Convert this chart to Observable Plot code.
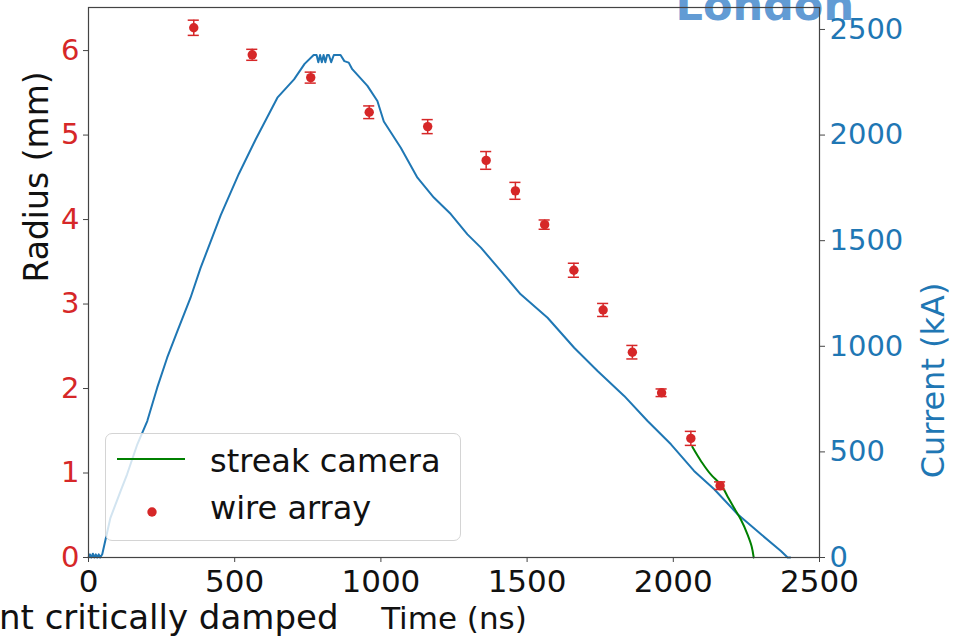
<!DOCTYPE html>
<html><head><meta charset="utf-8">
<script src="https://cdn.jsdelivr.net/npm/d3@7"></script>
<script src="https://cdn.jsdelivr.net/npm/@observablehq/plot@0.6"></script>
<style>
html,body{margin:0;padding:0;background:#fff;}
#wrap{position:relative;width:962px;height:639px;overflow:hidden;font-family:"DejaVu Sans",sans-serif;}
#legend{position:absolute;left:105px;top:433px;width:356px;height:108px;border:1px solid #d4d4d4;border-radius:7px;background:rgba(255,255,255,0.8);box-sizing:border-box;}
#legend svg{position:absolute;left:-1px;top:-1px;overflow:visible;}
</style></head><body><div id="wrap"></div>
<script>
// Current trace (ns, kA)
const waveTime = [0,5,10,15,20,25,30,35,40,47,75,110,132,167,201,235,269,304,349,383,452,514,572,646,703,739,770,780,786,792,798,804,810,816,822,830,839,850,862,875,890,902,954,988,1010,1068,1125,1181,1239,1296,1342,1410,1478,1570,1661,1741,1832,1912,1992,2071,2140,2220,2300,2368,2391,2400];
const waveCurrent = [0,15,0,18,0,15,0,15,0,15,188,315,394,536,646,804,946,1072,1230,1370,1620,1816,1980,2177,2264,2337,2379,2379,2345,2379,2345,2379,2345,2379,2379,2345,2379,2379,2379,2350,2343,2312,2233,2161,2064,1940,1798,1704,1626,1530,1467,1357,1246,1135,993,883,765,646,536,410,323,205,110,31,0,0];
// Wire array radius (ns, mm, error mm)
const wireTime = [360,560,760,960,1160,1360,1460,1560,1660,1760,1860,1960,2060,2160];
const wireRadius = [6.27,5.95,5.68,5.27,5.10,4.70,4.34,3.94,3.40,2.93,2.43,1.95,1.41,0.85];
const wireErr = [0.09,0.065,0.065,0.075,0.083,0.105,0.10,0.055,0.083,0.077,0.08,0.045,0.083,0.045];
// Streak camera (ns, mm)
const streakTime = [2065,2095,2129,2163,2186,2208,2231,2254,2268,2275];
const streakRadius = [1.31,1.14,0.98,0.86,0.72,0.585,0.45,0.27,0.13,0];
// Ticks and labels
const xTicks = [0,500,1000,1500,2000,2500];
const radiusTicks = [0,1,2,3,4,5,6];
const currentTicks = [0,500,1000,1500,2000,2500];
const legendLabels = ["streak camera","wire array"];
const xLabel = "Time (ns)", leftLabel = "Radius (mm)", rightLabel = "Current (kA)";
const overlayTop = "London", overlayBottom = "nt critically damped";

const k = 0.0025; // kA -> mm on shared y scale
const RED = "#d62728", BLUE = "#1f77b4", GREEN = "#008000";

const wave = waveTime.map((t,i)=>({t, r: waveCurrent[i]*k}));
const wire = wireTime.map((t,i)=>({t, r: wireRadius[i], e: wireErr[i]}));
const streak = streakTime.map((t,i)=>({t, r: streakRadius[i]}));

const chart = Plot.plot({
  width: 962, height: 639,
  marginLeft: 88, marginRight: 143, marginTop: 7, marginBottom: 82,
  x: {domain: [0, 2500], label: null},
  y: {domain: [0, 6.51], label: null},
  style: {fontFamily: "DejaVu Sans, sans-serif", background: "white"},
  marks: [
    Plot.text([overlayTop], {text: d=>d, frameAnchor: "top-left", dx: 587, dy: 12, textAnchor: "start", lineAnchor: "bottom", fontSize: 43, fontWeight: "bold", fill: "#629bd4"}),
    Plot.text([overlayBottom], {text: d=>d, frameAnchor: "bottom-left", dx: 250, dy: 71, textAnchor: "end", lineAnchor: "bottom", fontSize: 34, fill: "#111"}),
    Plot.line(wave, {x: "t", y: "r", stroke: BLUE, strokeWidth: 2}),
    Plot.line(streak, {x: "t", y: "r", stroke: GREEN, strokeWidth: 2, curve: "monotone-y"}),
    Plot.ruleX(wire, {x: "t", y1: d=>d.r-d.e, y2: d=>d.r+d.e, stroke: RED, strokeWidth: 1.5}),
    Plot.ruleY(wire, {y: d=>d.r+d.e, x1: d=>d.t-19, x2: d=>d.t+19, stroke: RED, strokeWidth: 1.5}),
    Plot.ruleY(wire, {y: d=>d.r-d.e, x1: d=>d.t-19, x2: d=>d.t+19, stroke: RED, strokeWidth: 1.5}),
    Plot.dot(wire, {x: "t", y: "r", r: 4.7, fill: RED}),
    Plot.frame({stroke: "#444", strokeWidth: 1.2}),
    // tick marks
    Plot.axisX({ticks: xTicks, tickSize: 5, tickFormat: ()=>"", color: "#444", label: null}),
    Plot.axisY({ticks: radiusTicks, tickSize: 5, tickFormat: ()=>"", color: "#444", label: null}),
    Plot.axisY(currentTicks.map(v=>v*k), {anchor: "right", tickSize: 5, tickFormat: ()=>"", color: "#444", label: null}),
    // tick labels
    Plot.axisX({ticks: xTicks, tickSize: 0, tickPadding: 12, fontSize: 31, color: "#111", label: null, tickFormat: d=>String(d)}),
    Plot.axisY({ticks: radiusTicks, tickSize: 0, tickPadding: 9, fontSize: 29, color: RED, label: null, tickFormat: d=>String(d)}),
    Plot.axisY(currentTicks.map(v=>v*k), {anchor: "right", tickSize: 0, tickPadding: 10, fontSize: 29, color: BLUE, label: null, tickFormat: d=>String(Math.round(d/k))}),
    // axis titles
    Plot.text([xLabel], {text: d=>d, frameAnchor: "bottom", dy: 71, lineAnchor: "bottom", fontSize: 31, fill: "#111"}),
    Plot.text([leftLabel], {text: d=>d, frameAnchor: "left", dx: -41, rotate: -90, lineAnchor: "bottom", fontSize: 33, fill: "#111"}),
    Plot.text([rightLabel], {text: d=>d, frameAnchor: "right", dx: 124, rotate: -90, lineAnchor: "bottom", fontSize: 32, fill: BLUE})
  ]
});

const wrap = document.getElementById("wrap");
wrap.appendChild(chart);

// Legend overlay
const lg = document.createElement("div");
lg.id = "legend";
const ns = "http://www.w3.org/2000/svg";
const s = document.createElementNS(ns, "svg");
s.setAttribute("width", 356); s.setAttribute("height", 108);
const ln = document.createElementNS(ns, "line");
ln.setAttribute("x1", 12); ln.setAttribute("x2", 80); ln.setAttribute("y1", 26); ln.setAttribute("y2", 26);
ln.setAttribute("stroke", GREEN); ln.setAttribute("stroke-width", 2);
s.appendChild(ln);
const c = document.createElementNS(ns, "circle");
c.setAttribute("cx", 47); c.setAttribute("cy", 79); c.setAttribute("r", 4.7); c.setAttribute("fill", RED);
s.appendChild(c);
legendLabels.forEach((lab, i) => {
  const t = document.createElementNS(ns, "text");
  t.setAttribute("x", 105); t.setAttribute("y", i === 0 ? 39 : 86);
  t.setAttribute("font-size", 32); t.setAttribute("font-family", "DejaVu Sans, sans-serif");
  t.setAttribute("fill", "#111");
  t.textContent = lab;
  s.appendChild(t);
});
lg.appendChild(s);
wrap.appendChild(lg);
</script>
</body></html>
